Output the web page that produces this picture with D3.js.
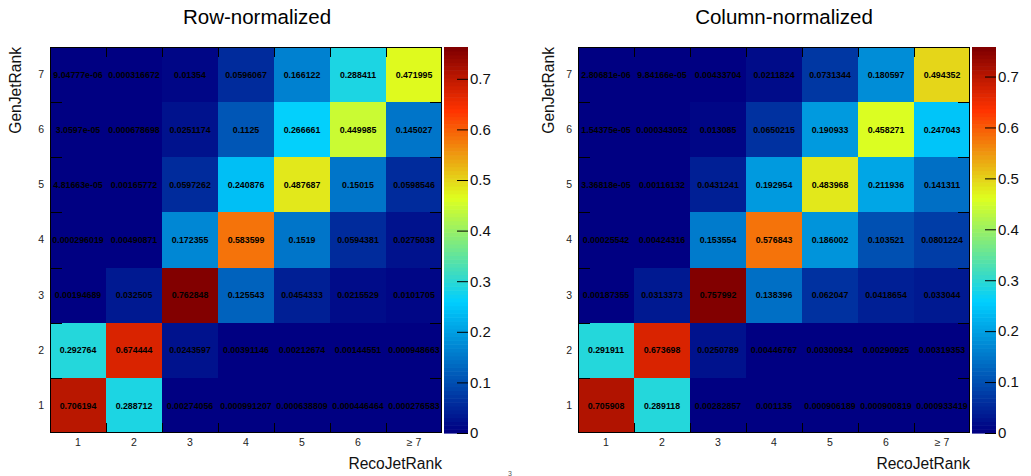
<!DOCTYPE html>
<html>
<head>
<meta charset="utf-8">
<script src="https://cdn.jsdelivr.net/npm/d3@7"></script>
<style>
  html, body { margin: 0; padding: 0; background: #fff; }
  svg { display: block; font-family: "Liberation Sans", Arial, Helvetica, sans-serif; }
</style>
</head>
<body>
<svg id="chart" width="1031" height="476"></svg>
<script>
// Reconstructed vs. generated jet rank migration matrices.
const recoRankLabels = ["1", "2", "3", "4", "5", "6", "\u2265 7"];
const genRankLabels = ["1", "2", "3", "4", "5", "6", "7"];

// Each row is one GenJetRank (1 .. 7), each entry one RecoJetRank column (1 .. ≥7).
const rowNormalized = [
  [0.706194, 0.288712, 0.00274056, 0.000991207, 0.000638809, 0.000446464, 0.000276583],
  [0.292764, 0.674444, 0.0243597, 0.00391146, 0.00212674, 0.00144551, 0.000948663],
  [0.00194689, 0.032505, 0.762848, 0.125543, 0.0454333, 0.0215529, 0.0101705],
  [0.000296019, 0.00490871, 0.172355, 0.583599, 0.1519, 0.0594381, 0.0275038],
  [4.81663e-05, 0.00165772, 0.0597262, 0.240876, 0.487687, 0.15015, 0.0598546],
  [3.0597e-05, 0.000678698, 0.0251174, 0.1125, 0.266661, 0.449985, 0.145027],
  [9.04777e-06, 0.000316672, 0.01354, 0.0596067, 0.166122, 0.288411, 0.471995]
];

const columnNormalized = [
  [0.705908, 0.289118, 0.00282857, 0.001135, 0.000906189, 0.000900819, 0.000933419],
  [0.291911, 0.673698, 0.0250789, 0.00446767, 0.00300934, 0.00290925, 0.00319353],
  [0.00187355, 0.0313373, 0.757992, 0.138396, 0.062047, 0.0418654, 0.033044],
  [0.00025542, 0.00424316, 0.153554, 0.576843, 0.186002, 0.103521, 0.0801224],
  [3.36818e-05, 0.00116132, 0.0431241, 0.192954, 0.483968, 0.211936, 0.141311],
  [1.54375e-05, 0.000343052, 0.013085, 0.0650215, 0.190933, 0.458271, 0.247043],
  [2.80681e-06, 9.84166e-05, 0.00433704, 0.0211824, 0.0731344, 0.180597, 0.494352]
];

const colorbarTicks = [0, 0.1, 0.2, 0.3, 0.4, 0.5, 0.6, 0.7];

// Gradient palette (stop positions and RGB components), drawn in discrete contours.
const paletteStops = [0.00, 0.34, 0.61, 0.84, 1.00];
const paletteRed   = [0.00, 0.00, 0.87, 1.00, 0.51];
const paletteGreen = [0.00, 0.81, 1.00, 0.20, 0.00];
const paletteBlue  = [0.51, 1.00, 0.12, 0.00, 0.00];
const nContours = 100;

const paletteColors = paletteStops.map((_, i) =>
  d3.rgb(paletteRed[i] * 255, paletteGreen[i] * 255, paletteBlue[i] * 255).toString());
const palette = d3.scaleLinear().domain(paletteStops).range(paletteColors)
  .interpolate(d3.interpolateRgb).clamp(true);

// C-style %g with 6 significant digits.
function fmtG(v) {
  if (v === 0) return "0";
  const e = Math.floor(Math.log10(Math.abs(v)));
  if (e < -4 || e >= 6) {
    let [m, ex] = v.toExponential(5).split("e");
    if (m.indexOf(".") >= 0) m = m.replace(/0+$/, "").replace(/\.$/, "");
    const sign = ex[0] === "-" ? "-" : "+";
    let digits = ex.replace(/^[-+]/, "");
    if (digits.length < 2) digits = "0" + digits;
    return m + "e" + sign + digits;
  }
  let s = v.toPrecision(6);
  if (s.indexOf(".") >= 0) s = s.replace(/0+$/, "").replace(/\.$/, "");
  return s;
}

const svg = d3.select("#chart");
svg.append("rect").attr("width", 1031).attr("height", 476).attr("fill", "#fff");

function drawPanel(cfg) {
  const g = svg.append("g");
  const values = cfg.matrix;
  const zMax = d3.max(values.flat());

  const x = d3.scaleBand().domain(recoRankLabels).range([cfg.left, cfg.right]);
  const y = d3.scaleBand().domain(genRankLabels.slice().reverse()).range([cfg.top, cfg.bottom]);
  const z = d3.scaleLinear().domain([0, zMax]).range([cfg.bottom, cfg.top]);

  const contourColor = v => {
    let lvl = Math.floor(v / zMax * nContours);
    lvl = Math.max(0, Math.min(nContours - 1, lvl));
    return palette(lvl / (nContours - 1));
  };

  const cells = [];
  values.forEach((row, i) => row.forEach((v, j) =>
    cells.push({ gen: genRankLabels[i], reco: recoRankLabels[j], v })));

  // cells
  g.append("g").selectAll("rect").data(cells).join("rect")
    .attr("x", d => x(d.reco))
    .attr("y", d => y(d.gen))
    .attr("width", x.bandwidth())
    .attr("height", y.bandwidth())
    .attr("fill", d => contourColor(d.v))
    .attr("shape-rendering", "crispEdges");

  // cell contents
  g.append("g").selectAll("text").data(cells).join("text")
    .attr("x", d => x(d.reco) + x.bandwidth() / 2)
    .attr("y", d => y(d.gen) + y.bandwidth() / 2)
    .attr("dy", "0.35em")
    .attr("text-anchor", "middle")
    .attr("font-size", 8.8)
    .attr("font-weight", "bold")
    .attr("fill", "#000")
    .text(d => fmtG(d.v));

  // tick marks on the bin boundaries (all four sides)
  const ticks = g.append("g").attr("stroke", "#000").attr("stroke-width", 1)
    .attr("shape-rendering", "crispEdges");
  recoRankLabels.slice(1).forEach(lbl => {
    const px = Math.round(x(lbl));
    ticks.append("line").attr("x1", px).attr("x2", px).attr("y1", cfg.bottom).attr("y2", cfg.bottom - 10);
    ticks.append("line").attr("x1", px).attr("x2", px).attr("y1", cfg.top).attr("y2", cfg.top + 10);
  });
  genRankLabels.slice(0, -1).forEach(lbl => {
    const py = Math.round(y(lbl));
    ticks.append("line").attr("x1", cfg.left).attr("x2", cfg.left + 12).attr("y1", py).attr("y2", py);
    ticks.append("line").attr("x1", cfg.right).attr("x2", cfg.right - 12).attr("y1", py).attr("y2", py);
  });

  // frame
  g.append("rect")
    .attr("x", cfg.left + 0.5).attr("y", cfg.top + 0.5)
    .attr("width", cfg.right - cfg.left - 1).attr("height", cfg.bottom - cfg.top - 1)
    .attr("fill", "none").attr("stroke", "#000").attr("stroke-width", 1);

  // axis labels
  const xAxis = g.append("g").attr("transform", `translate(0,${cfg.bottom})`)
    .call(d3.axisBottom(x).tickSize(0).tickPadding(6));
  xAxis.select(".domain").remove();
  xAxis.selectAll("text").attr("font-size", 10.5).attr("fill", "#222").attr("font-family", null);

  const yAxis = g.append("g").attr("transform", `translate(${cfg.left},0)`)
    .call(d3.axisLeft(y).tickSize(0).tickPadding(6));
  yAxis.select(".domain").remove();
  yAxis.selectAll("text").attr("font-size", 10.5).attr("fill", "#222").attr("font-family", null);

  // color bar
  const cb = g.append("g");
  const levels = d3.range(nContours);
  cb.selectAll("rect").data(levels).join("rect")
    .attr("x", cfg.cbLeft)
    .attr("width", cfg.cbRight - cfg.cbLeft)
    .attr("y", i => z((i + 1) * zMax / nContours))
    .attr("height", i => z(i * zMax / nContours) - z((i + 1) * zMax / nContours) + 0.6)
    .attr("fill", i => palette(i / (nContours - 1)));

  const zAxis = g.append("g").attr("transform", `translate(${cfg.cbRight},0)`)
    .call(d3.axisRight(z).tickValues(colorbarTicks).tickFormat(d => String(d))
      .tickSizeInner(-11).tickSizeOuter(0).tickPadding(2));
  zAxis.select(".domain").remove();
  zAxis.selectAll("line").attr("stroke", "#000");
  zAxis.selectAll("text").attr("font-size", 15).attr("fill", "#111").attr("font-family", null);

  // titles
  g.append("text")
    .attr("x", cfg.titleX).attr("y", 24)
    .attr("text-anchor", "middle")
    .attr("font-size", 20.5).attr("fill", "#000")
    .text(cfg.title);

  g.append("text")
    .attr("x", cfg.right).attr("y", 469)
    .attr("text-anchor", "end")
    .attr("font-size", 15.6).attr("fill", "#111")
    .text("RecoJetRank");

  g.append("text")
    .attr("transform", `translate(${cfg.yTitleX},${cfg.top}) rotate(-90)`)
    .attr("text-anchor", "end")
    .attr("font-size", 15.6).attr("fill", "#111")
    .text("GenJetRank");
}

drawPanel({
  matrix: rowNormalized, title: "Row-normalized",
  left: 50, right: 442, top: 47, bottom: 433,
  cbLeft: 444, cbRight: 468, titleX: 257, yTitleX: 21
});

drawPanel({
  matrix: columnNormalized, title: "Column-normalized",
  left: 578, right: 970, top: 47, bottom: 433,
  cbLeft: 972, cbRight: 996, titleX: 784, yTitleX: 554
});

svg.append("text")
  .attr("x", 510).attr("y", 476)
  .attr("text-anchor", "middle")
  .attr("font-size", 7).attr("fill", "#555")
  .text("3");
</script>
</body>
</html>
